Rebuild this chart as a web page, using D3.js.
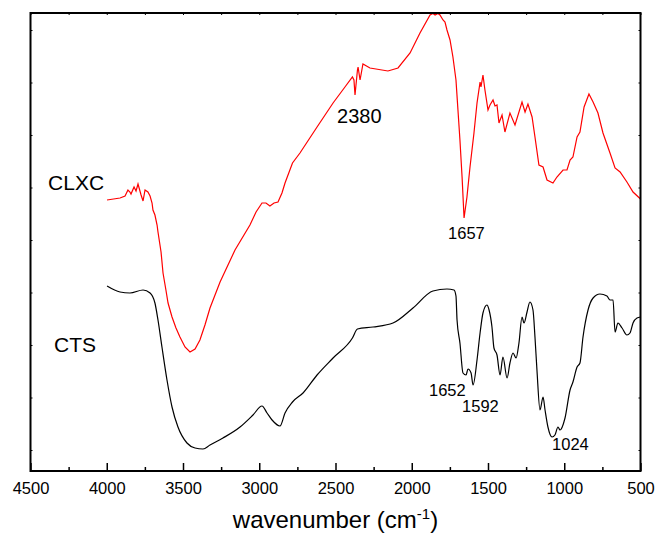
<!DOCTYPE html>
<html>
<head>
<meta charset="utf-8">
<script src="https://cdn.jsdelivr.net/npm/d3@7"></script>
<style>
  body { margin: 0; background: #fff; }
  text { font-family: "Liberation Sans", Arial, sans-serif; }
</style>
</head>
<body>
<div id="chart"></div>
<script>
// FTIR spectra: wavenumber (cm-1) and transmittance (a.u.)
var wnCLXC = [3998,3913,3880,3861,3848,3841,3821,3808,3795,3775,3762,3749,3730,3716,3703,3697,3684,3670,3664,3644,3631,3612,3598,3572,3546,3520,3487,3454,3421,3389,3356,3323,3290,3257,3159,3061,3021,2982,2956,2930,2903,2877,2851,2831,2782,2733,2621,2516,2438,2389,2379,2372,2356,2352,2339,2320,2274,2156,2090,2011,1946,1880,1861,1847,1828,1815,1795,1782,1769,1749,1730,1710,1697,1684,1670,1657,1638,1618,1592,1572,1552,1546,1533,1520,1500,1487,1467,1454,1441,1428,1408,1389,1356,1323,1277,1257,1238,1211,1192,1166,1139,1113,1074,1048,1008,982,962,943,916,897,870,838,811,779,746,700,667,634,589,549,500];
var tCLXC = [54.2,54.6,55.0,56.2,55.8,55.4,56.8,56.0,57.4,55.2,54.0,56.2,55.8,55.0,53.6,52.2,51.2,49.2,47.8,43.8,39.6,36.2,33.6,30.8,28.6,26.8,24.8,23.8,24.4,26.2,29.2,32.6,35.2,37.8,44.2,49.2,51.8,53.6,53.6,53.0,53.6,53.8,55.6,57.6,61.6,63.6,68.8,73.6,76.8,78.8,78.2,75.2,80.2,80.8,78.2,81.4,80.6,80.0,80.6,83.6,87.6,91.2,91.5,91.2,91.5,91.2,90.2,89.8,88.2,86.2,82.8,78.2,72.2,66.2,58.8,50.6,54.8,60.8,67.6,73.6,77.8,76.8,79.2,76.2,72.2,73.2,74.2,73.0,73.2,69.6,71.2,67.8,71.6,69.2,73.8,71.8,73.4,70.8,66.8,61.2,60.8,58.2,57.6,58.8,60.2,60.2,62.2,62.8,66.8,67.8,72.8,75.4,73.8,71.6,67.6,63.6,60.6,59.8,57.8,55.8,54.4];

var wnCTS = [3998,3913,3848,3762,3716,3684,3664,3638,3605,3572,3533,3474,3421,3369,3323,3238,3126,3041,2982,2949,2916,2864,2831,2782,2713,2621,2516,2389,2356,2254,2123,1992,1861,1769,1723,1710,1703,1684,1664,1644,1631,1611,1598,1572,1552,1533,1507,1493,1474,1461,1441,1421,1402,1375,1356,1336,1316,1297,1277,1264,1244,1225,1205,1192,1179,1159,1139,1126,1107,1080,1061,1041,1028,995,962,943,916,897,877,844,811,766,720,700,680,667,648,621,589,569,549,523,500];
var tCTS = [37.0,35.8,35.6,36.2,35.6,33.6,30.2,24.8,18.2,12.8,8.8,5.6,4.6,4.4,5.2,6.6,8.8,11.2,13.0,11.6,10.2,9.0,11.6,13.8,15.6,19.2,22.6,26.6,28.4,28.8,29.6,32.6,36.0,36.4,36.2,35.0,30.2,25.6,19.6,19.2,20.4,19.6,17.2,22.2,27.6,31.6,33.2,32.2,28.8,24.6,23.2,19.2,22.8,18.6,21.6,23.6,22.6,25.6,30.8,29.6,31.8,33.8,32.2,26.8,20.2,12.2,14.8,12.2,8.8,6.8,7.2,8.8,8.2,10.6,16.2,17.8,20.8,21.6,26.8,32.2,34.6,35.4,35.0,34.2,34.2,27.8,29.6,28.6,27.2,27.6,29.6,30.6,30.8];

var xMajor = [4500,4000,3500,3000,2500,2000,1500,1000,500];
var xMinor = [4250,3750,3250,2750,2250,1750,1250,750];
var yTicks = [4.2,14.7,25.2,35.7,46.2,56.7,67.2,77.7,88.2];

// labels [text, wavenumber at left edge, transmittance at baseline, font size]
var peakLabels = [
  ["CLXC", 4385, 56.2, 21],
  ["CTS", 4346, 23.8, 21],
  ["2380", 2490, 69.6, 20],
  ["1657", 1762, 46.4, 16.5],
  ["1652", 1887, 15.0, 16.5],
  ["1592", 1670, 11.8, 16.5],
  ["1024", 1080, 4.2, 16.5]
];

var W = 655, H = 535;
var m = {left: 30.5, right: 14.5, top: 13, bottom: 64};
var iw = W - m.left - m.right, ih = H - m.top - m.bottom;

var svg = d3.select("#chart").append("svg")
    .attr("width", W).attr("height", H);
var g = svg.append("g").attr("transform", "translate(" + m.left + "," + m.top + ")");

var x = d3.scaleLinear().domain([4500, 500]).range([0, iw]);
var y = d3.scaleLinear().domain([0, 91.6]).range([ih, 0]);

/*曲线*/
var lineRed = d3.line().x(function(d){return x(d[0]);}).y(function(d){return y(d[1]);});
var lineBlack = d3.line().curve(d3.curveMonotoneX)
    .x(function(d){return x(d[0]);}).y(function(d){return y(d[1]);});

g.append("path").datum(d3.zip(wnCTS, tCTS))
    .attr("d", lineBlack).attr("fill", "none").attr("stroke", "#000").attr("stroke-width", 1.2);
g.append("path").datum(d3.zip(wnCLXC, tCLXC))
    .attr("d", lineRed).attr("fill", "none").attr("stroke", "#ff0000").attr("stroke-width", 1.2);

/*坐标轴*/
function styleAxis(sel, w) {
  sel.select(".domain").remove();
  sel.selectAll(".tick line").attr("stroke", "#000").attr("stroke-width", w);
}
var xb = g.append("g").attr("transform", "translate(0," + ih + ")")
  .call(d3.axisBottom(x).tickValues(xMajor).tickSize(-8).tickPadding(11).tickFormat(d3.format("d")));
styleAxis(xb, 1.5);
xb.selectAll("text").attr("font-size", 16.5).attr("fill", "#000");
var xb2 = g.append("g").attr("transform", "translate(0," + ih + ")")
  .call(d3.axisBottom(x).tickValues(xMinor).tickSize(-4).tickFormat(""));
styleAxis(xb2, 1.5);
var xt = g.append("g")
  .call(d3.axisTop(x).tickValues(xMajor.concat(xMinor)).tickSize(-2).tickFormat(""));
styleAxis(xt, 1);
var yl = g.append("g").call(d3.axisLeft(y).tickValues(yTicks).tickSize(-2).tickFormat(""));
styleAxis(yl, 1);
var yr = g.append("g").attr("transform", "translate(" + iw + ",0)")
  .call(d3.axisRight(y).tickValues(yTicks).tickSize(-2).tickFormat(""));
styleAxis(yr, 1);

g.append("rect").attr("width", iw).attr("height", ih)
  .attr("fill", "none").attr("stroke", "#000").attr("stroke-width", 2);

/*标注*/
g.selectAll(".peak").data(peakLabels).enter().append("text")
  .attr("x", function(d){return x(d[1]);})
  .attr("y", function(d){return y(d[2]);})
  .attr("font-size", function(d){return d[3];})
  .text(function(d){return d[0];});

var title = svg.append("text")
  .attr("x", m.left + iw / 2).attr("y", 528)
  .attr("text-anchor", "middle").attr("font-size", 24);
title.append("tspan").text("wavenumber (cm");
title.append("tspan").attr("font-size", 15).attr("dy", -9).text("-1");
title.append("tspan").attr("dy", 9).text(")");
</script>
</body>
</html>
